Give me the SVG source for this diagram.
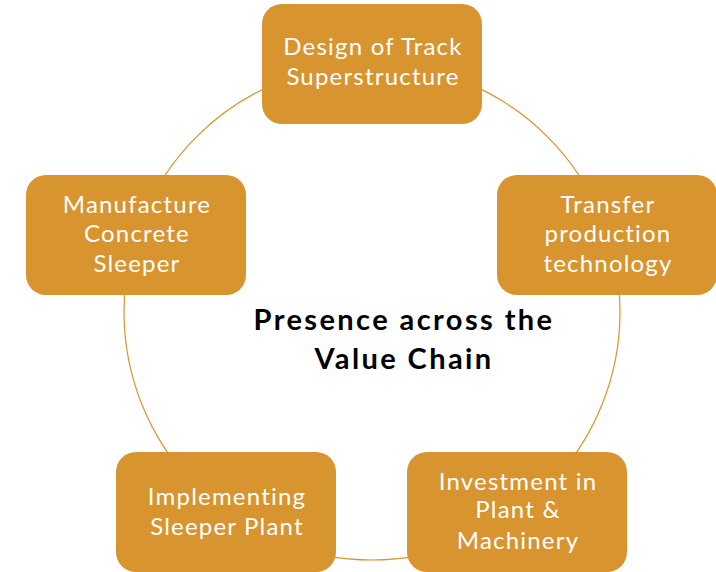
<svg xmlns="http://www.w3.org/2000/svg" width="716" height="572" viewBox="0 0 716 572">
<style>
.box{fill:#D8942F;}
.lbl{font-family:Lato,"Liberation Sans",sans-serif;font-size:24px;letter-spacing:1.2px;fill:#ffffff;text-anchor:middle;}
.ctr{font-family:Lato,"Liberation Sans",sans-serif;font-size:29px;letter-spacing:2.4px;font-weight:bold;fill:#000000;text-anchor:middle;}
.ring{fill:none;stroke:#D8942F;stroke-width:1.2;}
</style>
<rect width="716" height="572" fill="#ffffff"/>
<g id="connectors">
<circle class="ring" cx="372" cy="312" r="248"/>
</g>
<g id="center">
<text class="ctr" x="404" y="330">Presence across the</text>
<text class="ctr" x="404" y="369">Value Chain</text>
</g>
<g id="design">
<rect class="box" x="262" y="4" width="220" height="120" rx="20"/>
<text class="lbl" x="373" y="55">Design of Track</text>
<text class="lbl" x="373" y="85">Superstructure</text>
</g>
<g id="transfer">
<rect class="box" x="497" y="175" width="220" height="120" rx="20"/>
<text class="lbl" x="608" y="213">Transfer</text>
<text class="lbl" x="608" y="242">production</text>
<text class="lbl" x="608" y="272">technology</text>
</g>
<g id="investment">
<rect class="box" x="407" y="452" width="220" height="120" rx="20"/>
<text class="lbl" x="518" y="490">Investment in</text>
<text class="lbl" x="518" y="518">Plant &amp;</text>
<text class="lbl" x="518" y="549">Machinery</text>
</g>
<g id="implementing">
<rect class="box" x="116" y="452" width="220" height="120" rx="20"/>
<text class="lbl" x="227" y="505">Implementing</text>
<text class="lbl" x="227" y="535">Sleeper Plant</text>
</g>
<g id="manufacture">
<rect class="box" x="26" y="175" width="220" height="120" rx="20"/>
<text class="lbl" x="137" y="213">Manufacture</text>
<text class="lbl" x="137" y="242">Concrete</text>
<text class="lbl" x="137" y="272">Sleeper</text>
</g>
</svg>
